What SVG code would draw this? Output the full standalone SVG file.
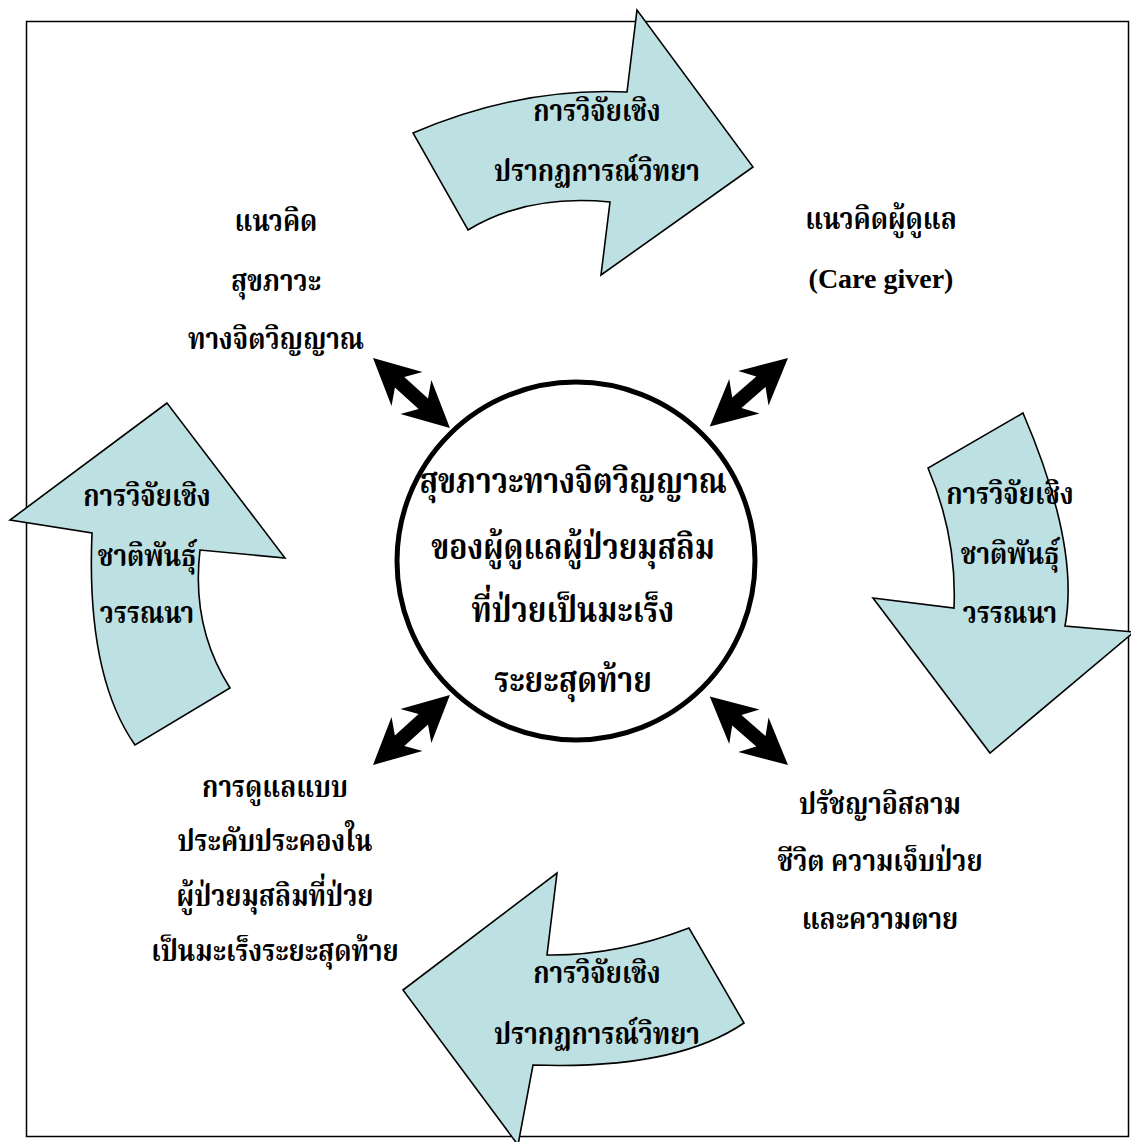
<svg xmlns="http://www.w3.org/2000/svg" width="1131" height="1142" viewBox="0 0 1131 1142">
<defs>
<style>
.bd{fill:none;stroke:#000;stroke-width:1.5}
.ar{fill:#bde0e3;stroke:#000;stroke-width:1.6;stroke-linejoin:miter}
.t{font-family:"Liberation Serif","Noto Serif Thai","Noto Sans Thai",serif;font-weight:bold;font-size:26px;text-anchor:middle;fill:#000}
.c{font-size:30px}
.en{font-family:"Liberation Serif",serif;font-weight:bold;font-size:28px;text-anchor:middle;fill:#000}
</style>
<path id="dbl" d="M0,0 L46,-23 L36,-7 L68,-7 L58,-23 L104,0 L58,23 L68,7 L36,7 L46,23 Z" fill="#000"/>
</defs>
<rect x="0" y="0" width="1131" height="1142" fill="#fff"/>
<rect class="bd" x="26.5" y="21.5" width="1102" height="1115"/>

<g id="arrow-top">
<path class="ar" d="M413,133 Q520,87 627,92 L637,10 L753,167 L601,275 L610,202 Q527,194 468,230 Z"/>
<text class="t" transform="translate(597,121) scale(1,1.18)">การวิจัยเชิง</text>
<text class="t" transform="translate(597,181) scale(1,1.18)">ปรากฏการณ์วิทยา</text>
</g>

<g id="arrow-right">
<path class="ar" d="M1023,413 L928,468 Q957,536 954,608 L873,598 L990,753 L1134,632 L1065,626 Q1080,546 1023,413 Z"/>
<text class="t" transform="translate(1010,504) scale(1,1.18)">การวิจัยเชิง</text>
<text class="t" transform="translate(1010,564) scale(1,1.18)">ชาติพันธุ์</text>
<text class="t" transform="translate(1010,623) scale(1,1.18)">วรรณนา</text>
</g>

<g id="arrow-bottom">
<path class="ar" d="M689,928 Q616,956 547,955 L557,873 L403,990 L518,1145 L533,1065 Q675,1070 744,1023 Z"/>
<text class="t" transform="translate(597,983) scale(1,1.18)">การวิจัยเชิง</text>
<text class="t" transform="translate(597,1044) scale(1,1.18)">ปรากฏการณ์วิทยา</text>
</g>

<g id="arrow-left">
<path class="ar" d="M167,403 L10,520 L92,533 Q86,675 135,745 L230,688 Q191,627 200,550 L285,558 Z"/>
<text class="t" transform="translate(147,506) scale(1,1.18)">การวิจัยเชิง</text>
<text class="t" transform="translate(147,566) scale(1,1.18)">ชาติพันธุ์</text>
<text class="t" transform="translate(147,623) scale(1,1.18)">วรรณนา</text>
</g>

<g id="center">
<circle cx="576" cy="561" r="179" fill="#fff" stroke="#000" stroke-width="5"/>
<text class="t c" transform="translate(573,493) scale(1,1.18)">สุขภาวะทางจิตวิญญาณ</text>
<text class="t c" transform="translate(573,559) scale(1,1.18)">ของผู้ดูแลผู้ป่วยมุสลิม</text>
<text class="t c" transform="translate(573,622) scale(1,1.18)">ที่ป่วยเป็นมะเร็ง</text>
<text class="t c" transform="translate(573,692) scale(1,1.18)">ระยะสุดท้าย</text>
</g>

<g id="concept-spiritual">
<text class="t" transform="translate(276,231) scale(1,1.18)">แนวคิด</text>
<text class="t" transform="translate(276,291) scale(1,1.18)">สุขภาวะ</text>
<text class="t" transform="translate(276,349) scale(1,1.18)">ทางจิตวิญญาณ</text>
</g>

<g id="concept-caregiver">
<text class="t" transform="translate(881,229) scale(1,1.18)">แนวคิดผู้ดูแล</text>
<text class="en" x="881" y="288">(Care giver)</text>
</g>

<g id="palliative-care">
<text class="t" transform="translate(275,797) scale(1,1.18)">การดูแลแบบ</text>
<text class="t" transform="translate(275,851) scale(1,1.18)">ประคับประคองใน</text>
<text class="t" transform="translate(275,906) scale(1,1.18)">ผู้ป่วยมุสลิมที่ป่วย</text>
<text class="t" transform="translate(275,961) scale(1,1.18)">เป็นมะเร็งระยะสุดท้าย</text>
</g>

<g id="islamic-philosophy">
<text class="t" transform="translate(880,814) scale(1,1.18)">ปรัชญาอิสลาม</text>
<text class="t" transform="translate(880,871) scale(1,1.18)">ชีวิต ความเจ็บป่วย</text>
<text class="t" transform="translate(880,929) scale(1,1.18)">และความตาย</text>
</g>

<g id="connectors">
<use href="#dbl" transform="translate(373,358) rotate(42.3)"/>
<use href="#dbl" transform="translate(788,358) rotate(138.8)"/>
<use href="#dbl" transform="translate(373,765) rotate(-42.3)"/>
<use href="#dbl" transform="translate(788,765) rotate(-138.8)"/>
</g>
</svg>
